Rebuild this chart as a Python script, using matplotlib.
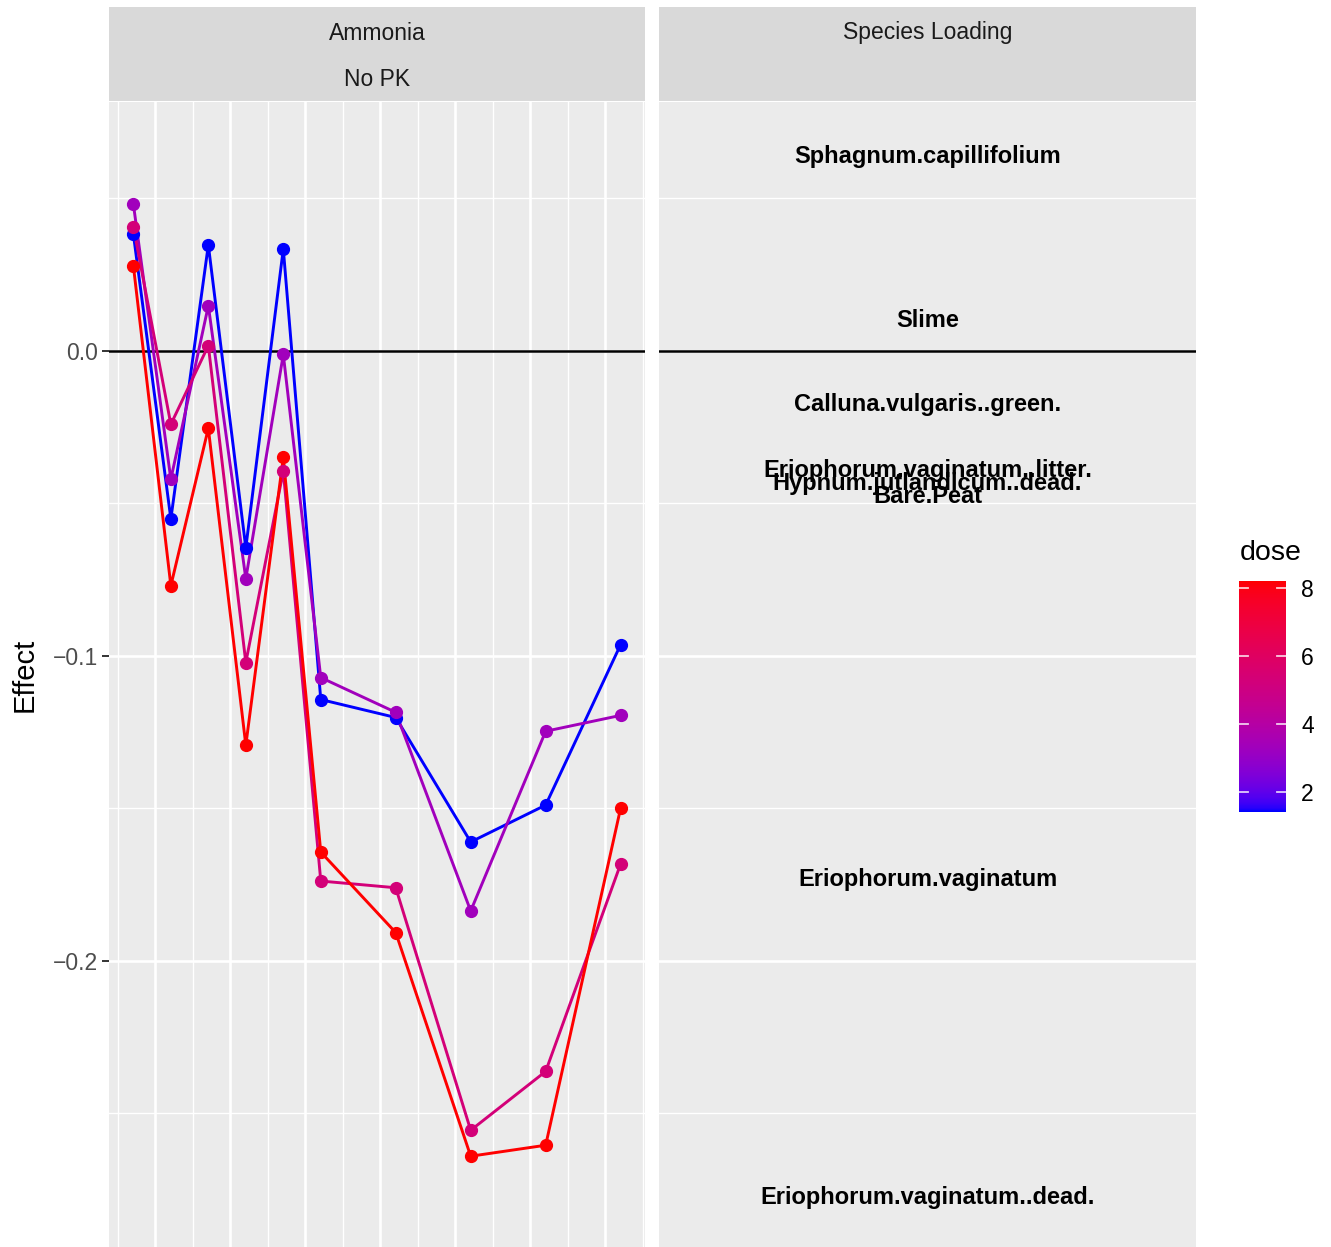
import numpy as np
import matplotlib
matplotlib.use("Agg")
import matplotlib.pyplot as plt
from matplotlib.colors import ListedColormap

plt.rcParams['font.family'] = ['Liberation Sans', 'DejaVu Sans']

# sampling occasions (x) and the effect per dose level
sample = [1, 2, 3, 4, 5, 6, 8, 10, 12, 14]
doses = [1.4, 3.3, 5.3, 8.2]
effect_d1 = [0.0382, -0.0552, 0.0346, -0.0647, 0.0333, -0.1144, -0.1203, -0.1611, -0.1490, -0.0964]
effect_d2 = [0.0480, -0.0422, 0.0147, -0.0748, -0.0013, -0.1072, -0.1186, -0.1837, -0.1248, -0.1196]
effect_d3 = [0.0405, -0.0242, 0.0016, -0.1023, -0.0395, -0.1739, -0.1761, -0.2556, -0.2363, -0.1683]
effect_d4 = [0.0278, -0.0771, -0.0255, -0.1294, -0.0350, -0.1644, -0.1908, -0.2641, -0.2605, -0.1500]
effects = [effect_d1, effect_d2, effect_d3, effect_d4]

species = ['Sphagnum.capillifolium', 'Slime', 'Calluna.vulgaris..green.',
           'Eriophorum.vaginatum..litter.', 'Hypnum.jutlandicum..dead.', 'Bare.Peat',
           'Eriophorum.vaginatum', 'Eriophorum.vaginatum..dead.']
loading = [0.0644, 0.0108, -0.0170, -0.0386, -0.0428, -0.0471, -0.1725, -0.2768]

dose_ticks = [2, 4, 6, 8]


# blue -> red gradient interpolated in CIE Lab, like scale_colour_gradient
def srgb_to_lab(rgb):
    c = np.asarray(rgb, float)
    lin = np.where(c <= 0.04045, c / 12.92, ((c + 0.055) / 1.055) ** 2.4)
    M = np.array([[0.4124, 0.3576, 0.1805], [0.2126, 0.7152, 0.0722], [0.0193, 0.1192, 0.9505]])
    t = (M @ lin) / np.array([0.95047, 1.0, 1.08883])
    d = 6 / 29
    f = np.where(t > d ** 3, np.cbrt(t), t / (3 * d ** 2) + 4 / 29)
    return np.array([116 * f[1] - 16, 500 * (f[0] - f[1]), 200 * (f[1] - f[2])])


def lab_to_srgb(lab):
    L, a, b = lab
    fy = (L + 16) / 116
    fx = fy + a / 500
    fz = fy - b / 200
    d = 6 / 29
    f = np.array([fx, fy, fz])
    t = np.where(f > d, f ** 3, 3 * d ** 2 * (f - 4 / 29)) * np.array([0.95047, 1.0, 1.08883])
    Minv = np.array([[3.2406, -1.5372, -0.4986], [-0.9689, 1.8758, 0.0415], [0.0557, -0.2040, 1.0570]])
    lin = Minv @ t
    lin = np.clip(lin, 0, 1)
    c = np.where(lin <= 0.0031308, 12.92 * lin, 1.055 * lin ** (1 / 2.4) - 0.055)
    return np.clip(c, 0, 1)


lab_lo = srgb_to_lab([0, 0, 1])
lab_hi = srgb_to_lab([1, 0, 0])
cmap = ListedColormap([lab_to_srgb(lab_lo + (lab_hi - lab_lo) * t) for t in np.linspace(0, 1, 256)])
dmin, dmax = min(doses), max(doses)


def dose_colour(d):
    return cmap((d - dmin) / (dmax - dmin))


W, H = 1331, 1247
fig = plt.figure(figsize=(W / 100, H / 100), dpi=100)

panel_bg = '#EBEBEB'
strip_bg = '#D9D9D9'

# shared y range: data range plus 5 %
all_y = np.concatenate([np.ravel(effects), loading])
yr = all_y.max() - all_y.min()
ylim = (all_y.min() - 0.05 * yr, all_y.max() + 0.05 * yr)
xr = max(sample) - min(sample)
xlim = (min(sample) - 0.05 * xr, max(sample) + 0.05 * xr)

y_major = [-0.2, -0.1, 0.0]
y_minor = [-0.25, -0.15, -0.05, 0.05]

ax1 = fig.add_axes([109 / W, 0, 536 / W, 1145 / H])
ax2 = fig.add_axes([659 / W, 0, 537 / W, 1145 / H])

for ax in (ax1, ax2):
    ax.set_facecolor(panel_bg)
    ax.set_ylim(ylim)
    for s in ax.spines.values():
        s.set_visible(False)
    for y in y_minor:
        ax.axhline(y, color='white', lw=1.0, zorder=0)
    for y in y_major:
        ax.axhline(y, color='white', lw=1.9, zorder=0)
    ax.axhline(0, color='black', lw=1.8, zorder=1)
    ax.set_xticks([])

# vertical grid of the time panel
ax1.set_xlim(xlim)
grid_start = 0.587
for k, gx in enumerate(np.arange(grid_start, xlim[1], 1.0)):
    ax1.axvline(gx, color='white', lw=1.9 if k % 2 else 1.0, zorder=0)

for d, eff in zip(doses, effects):
    ax1.plot(sample, eff, color=dose_colour(d), lw=2.1, zorder=2)
for d, eff in zip(doses, effects):
    ax1.plot(sample, eff, 'o', color=dose_colour(d), ms=8.5, zorder=3)

ax1.set_yticks(y_major)
ax1.set_yticklabels(['\u22120.2', '\u22120.1', '0.0'])
ax1.tick_params(axis='y', length=5, width=1.4, color='#333333', labelsize=16.5,
                labelcolor='#4D4D4D', pad=3)
ax1.set_ylabel('Effect', fontsize=21, labelpad=10, color='black')

# species loadings panel
ax2.set_xlim(0, 1)
ax2.set_yticks([])
for name, v in zip(species, loading):
    ax2.text(0.5, v, name, ha='center', va='center_baseline', fontsize=17, fontweight='bold',
             color='black', zorder=3)

# facet strips
for x0, w, rows in ((109, 536, ['Ammonia', 'No PK']), (659, 537, ['Species Loading', ''])):
    sax = fig.add_axes([x0 / W, (H - 101) / H, w / W, 94 / H])
    sax.set_facecolor(strip_bg)
    sax.set_xticks([])
    sax.set_yticks([])
    for s in sax.spines.values():
        s.set_visible(False)
    for i, lab in enumerate(rows):
        sax.text(0.5, 0.75 - 0.5 * i, lab, ha='center', va='center_baseline', fontsize=16.5,
                 color='#1A1A1A', transform=sax.transAxes)

# colour bar legend
cax = fig.add_axes([1239 / W, (H - 812) / H, 47 / W, 231 / H])
grad = np.linspace(dmin, dmax, 300).reshape(-1, 1)
cax.imshow(grad, cmap=cmap, aspect='auto', origin='lower',
           extent=[0, 1, dmin, dmax], vmin=dmin, vmax=dmax)
cax.set_xlim(0, 1)
cax.set_ylim(dmin, dmax)
for t in dose_ticks:
    cax.plot([0, 0.2], [t, t], color='white', lw=1.3, alpha=0.8)
    cax.plot([0.8, 1], [t, t], color='white', lw=1.3, alpha=0.8)
for s in cax.spines.values():
    s.set_visible(False)
cax.set_xticks([])
cax.yaxis.tick_right()
cax.set_yticks(dose_ticks)
cax.set_yticklabels([str(t) for t in dose_ticks])
cax.tick_params(axis='y', length=0, labelsize=16.5, pad=11, labelcolor='black')
fig.text(1240 / W, (H - 553) / H, 'dose', fontsize=20.5, ha='left', va='center')

fig.savefig('out.png', dpi=100)
